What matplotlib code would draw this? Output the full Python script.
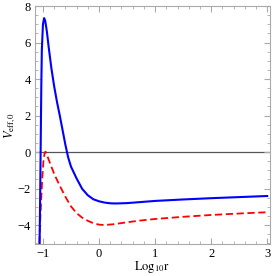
import matplotlib
matplotlib.use("Agg")
import matplotlib.pyplot as plt
from matplotlib.ticker import MultipleLocator

# effective potential
log_r_blue = [-1.06, -1.05, -1.04, -1.03, -1.02, -1.0, -0.98, -0.96, -0.93, -0.9,
              -0.85, -0.8, -0.75, -0.7, -0.65, -0.6, -0.55, -0.5, -0.4, -0.3,
              -0.2, -0.1, 0.0, 0.1, 0.2, 0.3, 0.5, 0.75, 1.0, 1.5, 2.0, 2.5, 3.0]
v_blue = [-5.0, -2.5, 0.5, 3.5, 5.6, 7.0, 7.34, 7.2, 6.6, 5.8,
          4.6, 3.6, 2.75, 2.0, 1.2, 0.4, -0.3, -0.8, -1.45, -2.02,
          -2.37, -2.59, -2.7, -2.77, -2.81, -2.82, -2.8, -2.74, -2.68, -2.6, -2.53, -2.47, -2.41]

log_r_red = [-1.065, -1.05, -1.03, -1.01, -0.99, -0.97, -0.955, -0.94, -0.9, -0.85,
             -0.8, -0.7, -0.6, -0.5, -0.4, -0.3, -0.2, -0.1, 0.0, 0.1,
             0.25, 0.5, 0.75, 1.0, 1.5, 2.0, 2.5, 3.0]
v_red = [-5.0, -3.8, -2.5, -1.3, -0.45, -0.05, 0.02, -0.05, -0.4, -0.8,
         -1.2, -1.85, -2.45, -2.98, -3.35, -3.6, -3.77, -3.9, -3.98, -4.0,
         -3.96, -3.85, -3.75, -3.67, -3.55, -3.45, -3.37, -3.3]

plt.rcParams["font.family"] = ["Liberation Serif", "DejaVu Serif"]
plt.rcParams["mathtext.fontset"] = "stix"

fig = plt.figure(figsize=(2.73, 2.76), dpi=100)
ax = fig.add_axes([0.128, 0.116, 0.861, 0.862])

ax.axhline(0, color="#555555", lw=0.9, zorder=1)
ax.plot(log_r_blue, v_blue, color="#0000ff", lw=1.5, zorder=3)
ax.plot(log_r_red, v_red, color="#ff0000", lw=1.3, dashes=(4, 2), zorder=2)

ax.set_xlim(-1.143, 3.05)
ax.set_ylim(-5.04, 8.0)
ax.xaxis.set_major_locator(MultipleLocator(1))
ax.xaxis.set_minor_locator(MultipleLocator(0.2))
ax.yaxis.set_major_locator(MultipleLocator(2))
ax.yaxis.set_minor_locator(MultipleLocator(0.5))

for side in ax.spines.values():
    side.set_color("#aaaaaa")
    side.set_linewidth(0.8)
ax.tick_params(which="both", direction="in", top=True, right=True,
               color="#aaaaaa", labelsize=9, pad=3)
ax.tick_params(which="major", length=4)
ax.tick_params(which="minor", length=2)
ax.set_yticks([-4, -2, 0, 2, 4, 6, 8])
ax.set_yticklabels(["\u22124", "\u22122", "0", "2", "4", "6", "8"])
ax.set_xticks([-1, 0, 1, 2, 3])
ax.set_xticklabels(["\u22121", "0", "1", "2", "3"])

ax.set_xlabel(r"$\mathrm{Log}_{10}\mathrm{r}$", fontsize=9, labelpad=-1)
ax.set_ylabel(r"$V_{\mathrm{eff},0}$", fontsize=9, labelpad=0)

fig.savefig("out.png", dpi=100)
